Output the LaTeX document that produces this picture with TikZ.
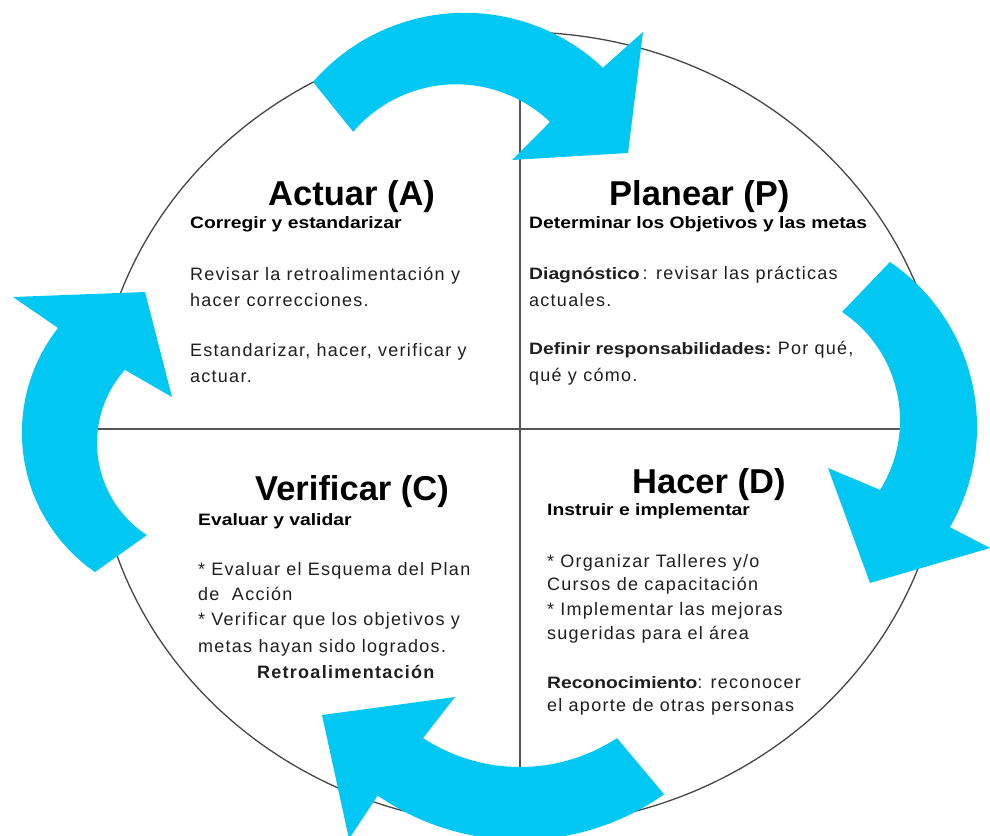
\documentclass[tikz,border=0pt]{standalone}
\usepackage{fontspec}
\usepackage{graphicx}
\setmainfont{Liberation Sans}
\newfontfamily\trackfont{Liberation Sans}[LetterSpace=7]
\usetikzlibrary{calc}
\definecolor{arrowcyan}{RGB}{0,200,242}
\definecolor{linegray}{RGB}{85,85,85}
\definecolor{circgray}{RGB}{70,70,70}
\newcommand\subt[1]{\scalebox{1.17}[1]{\normalfont\bfseries\fontsize{16.5}{18}\selectfont #1}}
\newcommand\titlef{\normalfont\bfseries\fontsize{34.5}{38}\selectfont}
\newcommand\bodyf{\trackfont\fontsize{18}{20}\selectfont}
\begin{document}
\begin{tikzpicture}[x=1pt,y=1pt,
  ttl/.style={anchor=base west,inner sep=0pt,font=\titlef,text=black},
  sbt/.style={anchor=base west,inner sep=0pt,text=black},
  bdy/.style={anchor=base west,inner sep=0pt,font=\bodyf,text=black!88},
  cycarrow/.style={fill=arrowcyan,draw=none},
  crossline/.style={line width=1.6,draw=linegray}]
\useasboundingbox (0,0) rectangle (990,-835);
\fill[white] (0,0) rectangle (990,-835);
\clip (0,0) rectangle (990,-835);
% circle and cross
\draw[line width=1.3,draw=circgray] (520,-429) ellipse [x radius=425,y radius=397];
\coordinate (hl) at (95,-429); \coordinate (hr) at (945,-429);
\coordinate (vt) at (520,-32); \coordinate (vb) at (520,-826);
\draw[crossline] (hl) -- (hr);
\draw[crossline] (vt) -- (vb);
% top arrow
\coordinate (tO) at (464.7,-213.8); \coordinate (tI) at (456.2,-219.8);
\fill[cycarrow] ($(tO)+(139:201)$) arc[start angle=139,end angle=46.6,radius=201]
  -- (643,-32) -- (628,-153) -- (512,-160)
  -- ($(tI)+(46.2:135.5)$) arc[start angle=46.2,end angle=139.5,radius=135.5] -- cycle;
% right arrow
\coordinate (rO) at (777.5,-426.8); \coordinate (rI) at (769.4,-420.5);
\fill[cycarrow] ($(rO)+(55.7:199.5)$) arc[start angle=55.7,end angle=-30.2,radius=199.5]
  -- (990,-548) -- (870,-583) -- (828,-468)
  -- ($(rI)+(-32.1:130.6)$) arc[start angle=-32.1,end angle=56.2,radius=130.6] -- cycle;
% left arrow
\coordinate (lO) at (191.5,-432.6); \coordinate (lI) at (207,-443);
\fill[cycarrow] ($(lO)+(235.3:169.6)$) arc[start angle=235.3,end angle=141.9,radius=169.6]
  -- (13,-297) -- (145,-292) -- (172,-397)
  -- ($(lI)+(138.3:110)$) arc[start angle=138.3,end angle=236.9,radius=110] -- cycle;
% bottom arrow
\coordinate (bC) at (520,-590);
\fill[cycarrow] ($(bC)+(-54.8:250)$) arc[start angle=-54.8,end angle=-124.7,radius=250]
  -- (349,-839) -- (322,-715) -- (455,-697)
  -- ($(bC)+(236.8:177)$) arc[start angle=236.8,end angle=303.2,radius=177] -- cycle;
% quadrant A
\node[ttl] (tA) at (268,-205) {Actuar (A)};
\node[sbt] (sA) at (190,-228) {\subt{Corregir y estandarizar}};
\node[bdy] (a1) at (190,-280) {Revisar la retroalimentación y};
\node[bdy] (a2) at (190,-306) {hacer correcciones.};
\node[bdy] (a3) at (190,-356) {Estandarizar, hacer, verificar y};
\node[bdy] (a4) at (190,-382) {actuar.};
% quadrant P
\node[ttl] (tP) at (609,-205) {Planear (P)};
\node[sbt] (sP) at (529,-228) {\subt{Determinar los Objetivos y las metas}};
\node[bdy] (p1) at (529,-279) {\subt{Diagnóstico}\,: revisar las prácticas};
\node[bdy] (p2) at (529,-306) {actuales.};
\node[bdy] (p3) at (529,-354) {\subt{Definir responsabilidades:} Por qué,};
\node[bdy] (p4) at (529,-381) {qué y cómo.};
% quadrant C
\node[ttl] (tC) at (255,-500) {Verificar (C)};
\node[sbt] (sC) at (198,-525) {\subt{Evaluar y validar}};
\node[bdy] (c1) at (198,-575) {* Evaluar el Esquema del Plan};
\node[bdy] (c2) at (198,-600) {de \ Acción};
\node[bdy] (c3) at (198,-625) {* Verificar que los objetivos y};
\node[bdy] (c4) at (198,-652) {metas hayan sido logrados.};
\node[bdy,font=\bodyf\bfseries] (c5) at (257,-678) {Retroalimentación};
% quadrant D
\node[ttl] (tD) at (632,-493) {Hacer (D)};
\node[sbt] (sD) at (547,-515) {\subt{Instruir e implementar}};
\node[bdy] (d1) at (547,-567) {* Organizar Talleres y/o};
\node[bdy] (d2) at (547,-590) {Cursos de capacitación};
\node[bdy] (d3) at (547,-615) {* Implementar las mejoras};
\node[bdy] (d4) at (547,-639) {sugeridas para el área};
\node[bdy] (d5) at (547,-688) {\subt{Reconocimiento}: reconocer};
\node[bdy] (d6) at (547,-711) {el aporte de otras personas};
\end{tikzpicture}
\end{document}
